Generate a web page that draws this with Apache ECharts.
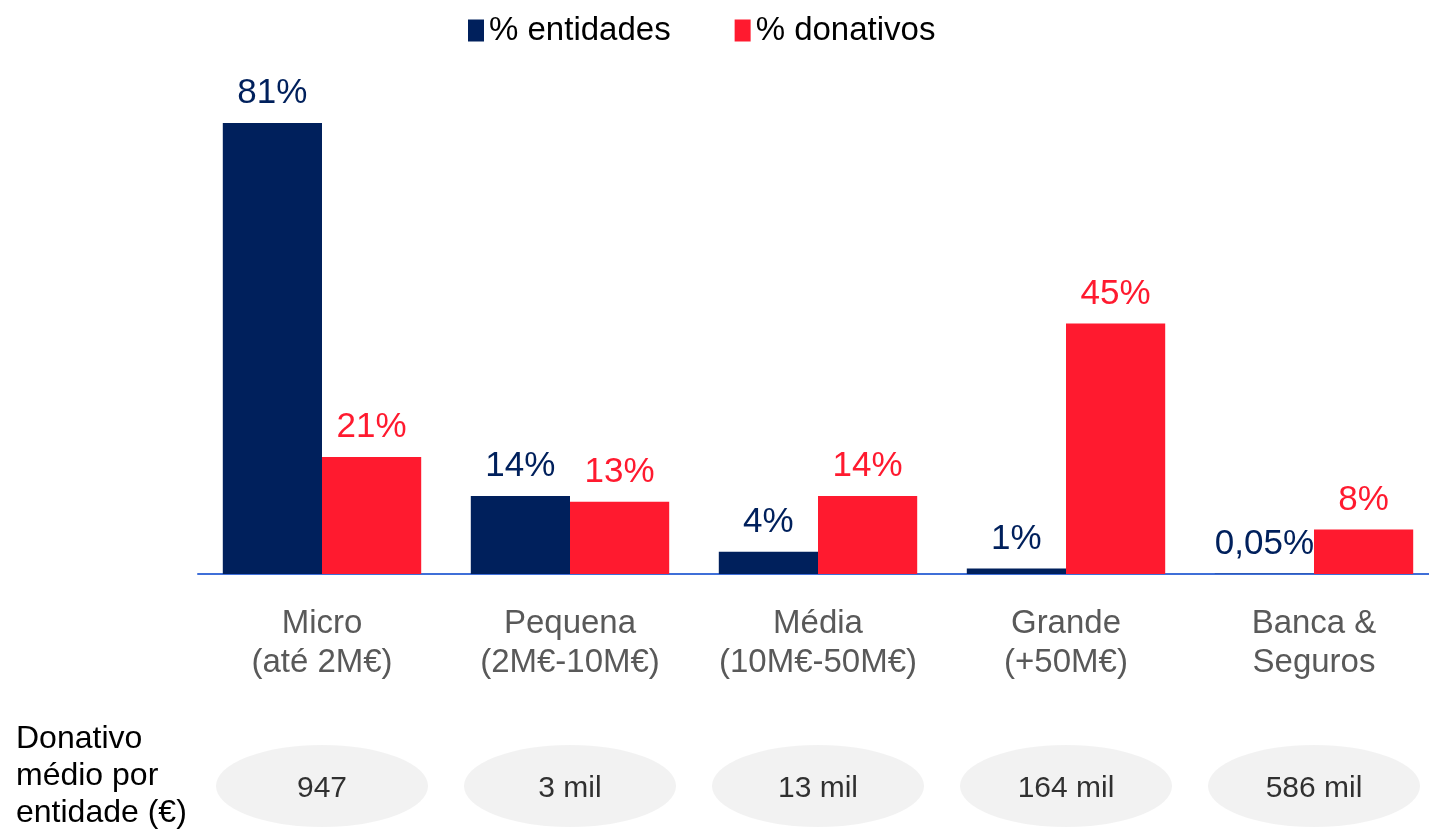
<!DOCTYPE html>
<html>
<head>
<meta charset="utf-8">
<script src="https://cdn.jsdelivr.net/npm/echarts@6/dist/echarts.min.js"></script>
<style>
html, body { margin: 0; padding: 0; background: #fff; overflow: hidden; }
#chart { width: 1440px; height: 831px; }
</style>
</head>
<body>
<div id="chart"></div>
<script>
var categories = ['Micro\n(até 2M€)', 'Pequena\n(2M€-10M€)', 'Média\n(10M€-50M€)', 'Grande\n(+50M€)', 'Banca &\nSeguros']
var entidades = [81, 14, 4, 1, 0.05]
var entidadesLabels = ['81%', '14%', '4%', '1%', '0,05%']
var donativos = [21, 13, 14, 45, 8]
var donativosLabels = ['21%', '13%', '14%', '45%', '8%']
var donativoMedio = ['947', '3 mil', '13 mil', '164 mil', '586 mil']

var FONT = "'Liberation Sans', Arial, sans-serif"
var BLUE = '#00205c'
var RED = '#ff1a2f'

var chart = echarts.init(document.getElementById('chart'))
var option = {
    animation: false,
    textStyle: { fontFamily: FONT },
    title: {
        text: 'Donativo\nmédio por\nentidade (€)',
        left: 11,
        top: 716,
        textStyle: {
            fontFamily: FONT,
            fontSize: 32,
            lineHeight: 37,
            fontWeight: 'normal',
            color: '#000'
        }
    },
    legend: {
        left: 468,
        top: 14,
        padding: 0,
        itemWidth: 16,
        itemHeight: 22,
        itemGap: 64,
        icon: 'rect',
        textStyle: { fontFamily: FONT, fontSize: 33, color: '#000' },
        data: ['% entidades', '% donativos']
    },
    grid: [
        { left: 198, width: 1240, top: 73, bottom: 257 },
        { left: 198, width: 1240, top: 745, height: 82 }
    ],
    xAxis: [
        {
            type: 'category',
            gridIndex: 0,
            data: categories,
            axisLine: { lineStyle: { color: '#3f6fd8', width: 2 } },
            axisTick: { show: false },
            axisLabel: {
                interval: 0,
                margin: 30,
                fontFamily: FONT,
                fontSize: 33,
                lineHeight: 39,
                color: '#595959'
            }
        },
        {
            type: 'category',
            gridIndex: 1,
            data: categories,
            show: false
        }
    ],
    yAxis: [
        { type: 'value', gridIndex: 0, min: 0, max: 90, show: false },
        { type: 'value', gridIndex: 1, min: -1, max: 1, show: false }
    ],
    series: [
        {
            name: '% entidades',
            type: 'bar',
            xAxisIndex: 0,
            yAxisIndex: 0,
            barGap: '0%',
            barCategoryGap: '20%',
            itemStyle: { color: BLUE },
            data: entidades,
            label: {
                show: true,
                position: 'top',
                distance: 12,
                fontFamily: FONT,
                fontSize: 35,
                color: BLUE,
                formatter: function (p) { return entidadesLabels[p.dataIndex] }
            }
        },
        {
            name: '% donativos',
            type: 'bar',
            xAxisIndex: 0,
            yAxisIndex: 0,
            itemStyle: { color: RED },
            data: donativos,
            label: {
                show: true,
                position: 'top',
                distance: 12,
                fontFamily: FONT,
                fontSize: 35,
                color: RED,
                formatter: function (p) { return donativosLabels[p.dataIndex] }
            }
        },
        {
            name: 'medio',
            type: 'scatter',
            xAxisIndex: 1,
            yAxisIndex: 1,
            symbol: 'circle',
            symbolSize: [212, 82],
            itemStyle: { color: '#efefef' },
            data: donativoMedio.map(function (v, i) { return [i, 0] }),
            label: {
                show: true,
                position: 'inside',
                offset: [0, 3],
                fontFamily: FONT,
                fontSize: 30,
                color: '#000',
                formatter: function (p) { return donativoMedio[p.dataIndex] }
            }
        }
    ]
}
chart.setOption(option)
</script>
</body>
</html>
